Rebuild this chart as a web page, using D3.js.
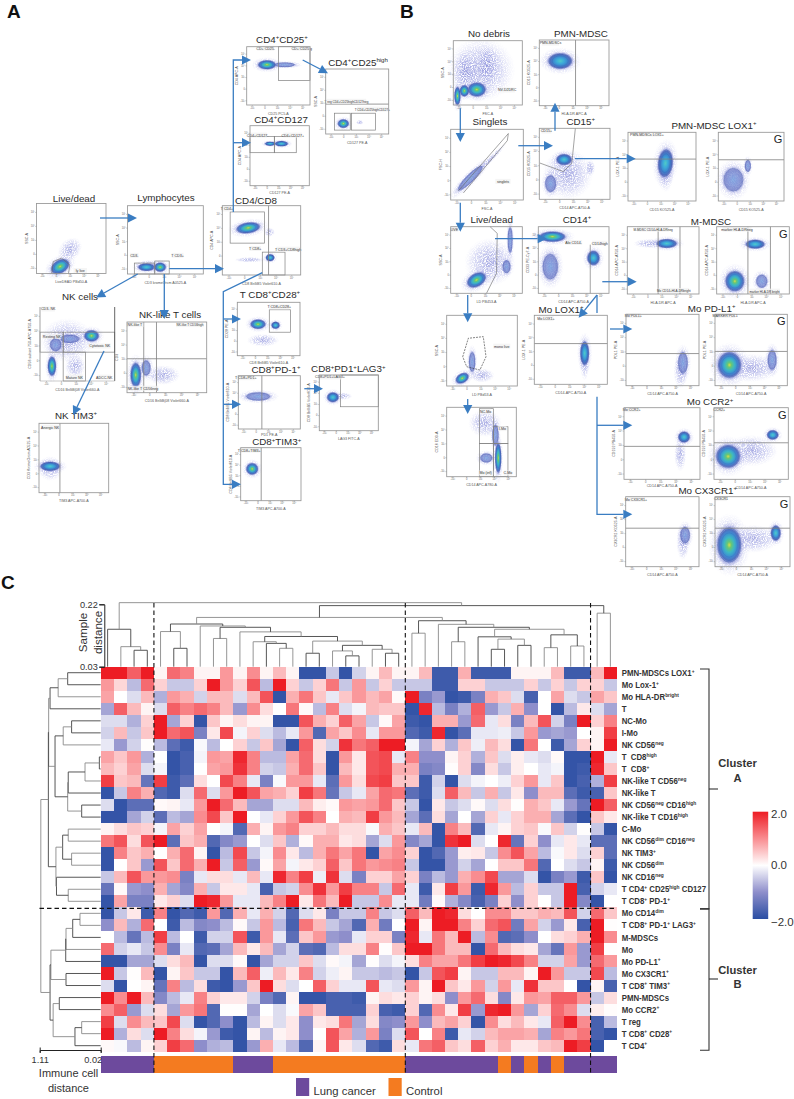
<!DOCTYPE html>
<html><head><meta charset="utf-8"><title>Flow gating and heatmap</title>
<script src="https://cdn.jsdelivr.net/npm/d3@7"></script>
<style>html,body{margin:0;padding:0;background:#fff}svg{display:block}text{font-family:"Liberation Sans",Arial,sans-serif}</style>
</head><body><svg id="fig" width="794" height="1099" viewBox="0 0 794 1099"></svg>
<script>
/* ---------- heatmap data ---------- */
const rowLabels=["PMN-MDSCs LOX1^+^","Mo Lox-1^+^","Mo HLA-DR^bright^","T","NC-Mo","I-Mo","NK CD56^neg^","T\u00a0 CD8^high^","T\u00a0 CD8^+^","NK-like T CD56^neg^","NK-like T","NK CD56^neg^ CD16^high^","NK-like T CD16^high^","C-Mo","NK CD56^dim^ CD16^neg^","NK TIM3^+^","NK CD56^dim^","NK CD16^neg^","T CD4^+^ CD25^high^ CD127","T CD8^+^ PD-1^+^","Mo CD14^dim^","T CD8^+^ PD-1^+^ LAG3^+^","M-MDSCs","Mo","Mo PD-L1^+^","Mo CX3CR1^+^","T CD8^+^ TIM3^+^","PMN-MDSCs","Mo CCR2^+^","T reg","T CD8^+^ CD28^+^","T CD4^+^"];
const heatValues=[
[2,2,1.4,2,.1,1.3,1.1,.1,.1,.9,.1,1,.1,.6,.1,-1.9,-1.9,-.5,-1.9,-.4,.1,.6,.1,.1,.6,-1.8,-1.8,.7,-1.8,-1.8,-1.8,.1,.1,.1,.6,-1.8,-1.8,.6,2],
[.9,.35,-.6,1.3,.4,-.5,-.5,.4,2,.9,.4,1.5,-.6,2,.4,-.5,.4,1.2,-.5,.9,-.5,.4,-.5,-.5,-.5,-1.8,-1.8,.4,.4,-.5,-.5,-.5,.4,-.5,.4,-.5,.4,.4,-.5],
[.8,0,-.3,.6,-.7,.9,.7,-.4,.6,.6,-.3,.6,1.5,-1.9,.7,1.2,.5,-.2,.5,.9,.6,.8,.05,2,-1.2,-.9,-1.9,-1.8,-1.2,.7,.5,-.3,-1.7,0,.8,-.3,-.5,.8,.5],
[-.8,1.4,.6,.1,-.3,1.4,1.1,1.3,1.1,.6,-.9,1,.3,0,1.2,.05,-.6,1.1,-.3,-.1,.6,.5,.5,-1.9,1.9,-.6,-1.2,-.7,1.4,-.9,-.5,.7,-1,0,-1.9,-.6,.2,-.3,-.8],
[-.3,-.3,-.7,.4,2,-.8,.4,-1.9,.5,.1,.3,.1,.1,-1.9,-1.9,1.5,.7,.4,1.4,.8,-.5,.05,.8,-1.8,-1.9,.7,.7,-.9,1.3,-.2,.3,-1.2,.6,1.5,-.4,-1.2,2,.4,1.1],
[-.4,.6,-.5,.5,2,1.3,1.5,-1.2,.2,1.6,-.1,.4,-.3,-.6,-.2,.9,-1.6,.8,.5,1,-.2,.9,.9,-1.6,-1.8,1.9,-1.9,-1.5,-.2,-.2,-.15,-.5,.9,-.9,-.8,-.9,0,.1,1.7],
[-.2,-.9,-.4,.02,-.6,-1.5,-1.8,-.05,-.6,0,.4,-.5,.5,-.8,-1.9,1.4,.3,-.4,1.8,1.2,1.4,2,2,-.1,-.8,.4,-.7,.5,-.15,.6,.3,-1.9,1.2,0,-1.8,-.8,.4,.1,2],
[.8,.5,.9,-.7,0,-1.9,-1.7,-.1,.9,.8,1.9,1.1,-.6,-.6,.8,1.3,.3,-1.9,.9,.2,1.5,1.6,-.2,1.1,-1,-1,.1,.4,-.7,.5,-.3,.15,-.2,-.3,.05,-1.9,-1.9,2,-.2],
[.6,.4,.8,-.3,-.1,-1.9,-1.7,0,.8,.9,1.8,1.1,-.4,-.5,.7,1.3,.5,-1.9,.6,.2,1.5,1.6,.7,.7,-1.2,-1.1,.03,.4,-1.1,.3,-.5,.15,0,-.2,-.1,-1.9,-1.8,1.9,.5],
[1.7,.5,.6,-1.4,1.7,-1.8,-1.5,.3,0,1.6,1.1,-.2,-1.2,-.05,.9,.9,-.2,-1.5,.9,.3,1.6,1.7,.5,.5,-1.8,-.4,-1.9,-.3,-.1,0,-.15,.4,.9,-.2,.5,-1.9,-1.7,-.7,1.7],
[-1.9,-.5,1.1,.7,-1.6,-1.8,-.3,1.3,-.3,.9,2,1.5,.8,.7,.4,1.7,1.2,-1.4,-.5,-.2,.8,1.3,1.2,-1.5,-1.8,-.3,1.4,.6,-.5,.7,-.5,.2,-1,.6,.6,-1.5,-1.8,-1.7,.5],
[-.3,-1.9,-1.5,-1.5,.05,.1,-.2,.9,2,1.3,.6,-.8,-.8,-.3,-.3,.6,.15,.05,.9,.8,.9,1.3,.5,-.5,-1.9,.2,-.5,-.3,.05,-.3,.3,.02,.7,.5,-.2,-.9,-1.4,2,1.4],
[-1.9,-1.9,-.8,-.4,-1.5,-.6,-.8,1,1.6,.5,2,0,-.2,.4,.9,1.5,1.1,0,.7,.6,1.7,.9,.6,-.8,-1.5,.3,-.8,0,-.8,.4,-.2,.4,.7,.7,-.8,-1.5,-1.9,.5,.2],
[.1,.3,.5,.4,-.1,.8,.4,.8,0,-.1,-1.6,.7,.1,.9,1.1,.4,.4,.6,.3,.3,-.05,.7,.5,-.2,.6,-1.9,1.1,.6,-1.6,-.2,.1,.4,.5,-.05,.5,-.4,.02,-.5,-1.9],
[1.2,1.5,.3,1.5,2,-1.5,.5,.7,-1.6,-1.1,-.9,0,-.3,.5,-.7,.05,.7,.7,.2,.3,-.8,-.3,.9,-1.1,-.8,-1.9,1.8,2,-.3,0,1.9,-1.4,.4,-1,-.2,.2,-.2,-1.5,-1.5],
[-1.9,1.1,.5,.7,0,.7,1.3,.1,-1.9,-.6,1.6,-.5,-.1,1,.2,-.6,.7,1.2,.8,1.2,-1.9,.8,1,.4,-1.9,-1.6,-.9,.15,.2,-.5,1,1.5,.8,-.6,-.05,.2,-.3,.4,-1.5],
[-1.9,0,.5,-.9,1.5,.5,1.3,.7,2,-.5,1.4,-.9,.05,.8,-.1,.2,.4,1.4,.5,1.2,.9,1,1.1,-.5,-1.9,-1.9,-.9,-.4,-.8,0,.5,.5,1.2,-1.6,0,-.3,-.5,.1,-1.8],
[-.5,.6,1.5,.9,.9,1,-1.2,-.2,.3,.3,-.2,.6,-.2,1.9,1.1,1.7,-.15,1.8,-.3,-1.2,.4,.4,.8,.4,-1.2,-.6,-.9,.7,1,1.6,-.8,-.8,-.3,-1.9,-1.2,-.9,-1.8,.5,-1.9],
[-1.4,.05,-.9,-1,.7,-.8,-1.1,.7,-.5,.2,.2,-.2,-1.7,-.5,-.4,1,1.8,.9,1.7,1.1,1.1,-.5,1.3,-.2,-1.8,.2,1.7,.9,-1.8,1.9,.9,-.6,.4,-.5,-.5,2,-1.7,-.4,-.2],
[-1.9,.8,-1.2,-1.2,.2,.4,-.3,2,1.9,.9,-.2,-.2,.6,1.1,2,.2,1.2,.6,2,-.5,-.5,1,-.2,-.2,-1.3,.05,-.7,-1.1,-1.7,-1.2,.4,-1,.4,0,-.5,2,-1.1,-1.9,0],
[-1.9,-.5,.2,-1.8,1.1,-1.9,-1.6,-1.8,.9,-1.6,.7,-.2,.7,-.4,-1.6,-.3,.2,-1.2,-.5,-.5,1.1,-.5,-.3,1.4,.6,2,1.9,.3,0,1,1,.5,.5,.7,.6,1.5,-.4,1.3,.5],
[-1,.6,-.7,1.3,0,-1.8,-.6,-1.1,-1,-.6,.05,-.5,.9,-.6,-1.7,1.2,.6,-.5,-.8,-1.6,.7,-1.3,0,2,.1,2,2,1.1,.4,1.3,1.5,-1.3,.8,-.4,-.9,.2,-1.7,2,.02],
[0,-.6,-1.4,-.6,1.7,-.6,0,-1.8,-.4,-.4,1.5,-1.8,.9,-.2,-1.5,.5,.9,-.9,-1,-.2,.4,.4,-1.2,1.9,-.2,1.2,.6,2,-.6,1,-1.6,-1.5,-1,0,.3,.4,.7,2,1],
[1.3,-.4,-.2,-.5,1,-1.2,-.2,-1.6,-1.5,-.8,.6,.2,.6,-.8,-.4,-1.5,-1.6,-.6,.3,.3,1.1,.02,.5,2,2,1.2,.6,.6,-1.9,1.3,.6,.3,.2,-.8,-1.4,.9,-.9,1.7,.02],
[-1.9,-1.9,-.8,-.8,-.3,.3,.6,-1.9,-.3,-.3,.05,-1.9,-.8,-.4,-.4,.5,-.3,.05,-.1,-.8,.02,-.3,-.1,.3,1.1,.8,.8,1.2,1.7,2,1.9,1.6,1.1,-.4,-.4,.8,-.9,1.3,.9],
[2,-.5,.02,.6,-1.9,.1,.5,-.5,-.5,-1.9,.6,1.4,-.15,.6,.2,1.1,-.4,-.15,.1,-.5,-.5,-.6,-.5,-1.9,-.5,1.5,1.7,.1,-.5,-.5,.6,.6,.1,2,.9,-.5,-.5,1.6,-.6],
[-.3,-1.9,0,.1,-1.4,1.1,-.6,.3,-1.8,-1.9,-.9,.5,2,.3,-.3,0,1.4,.4,-.2,-.2,1.5,-.2,-.3,.9,.1,2,.5,.2,.9,-.4,.9,-.2,1.8,.5,.5,0,-1.9,.1,-1.7],
[2,1,2,.6,-1.1,-.6,-.2,1.1,.4,.2,.2,-.4,-1.2,-1.6,.1,-1.9,-1.9,-1.7,-1.7,-1.8,.1,.3,.2,.4,.1,.3,-1,.9,1.3,.3,-1.1,.2,.9,.8,1.4,1.4,.9,-.5,.3],
[1,1.4,-.9,-.3,.3,-.8,.9,1.2,-1.6,.02,.02,-.8,0,-.3,-.05,.8,.5,-1.7,-1.7,-1.7,.4,-1.7,-1.8,.4,-1.6,1,.2,1.7,-.9,1.9,2,.9,-.8,.4,1.3,1,-.3,.15,.03],
[1.7,-.3,1,.6,.5,1.6,-.3,-1.9,-1.6,-1,-1.9,-.6,.1,-.3,.2,-1,.2,.3,1.2,-.8,.3,-1.1,-1,.9,-1,.6,.8,.4,-1.9,1,.3,.6,.2,-.2,1.4,2,1,-1.7,-.6],
[2,-.7,.3,-.3,2,1.1,.3,-.1,-.9,-1.8,-1.9,.1,-.6,.1,.2,-1,0,1.5,.8,-.7,.9,-1.2,-.3,1.5,0,1.1,-1.8,-.2,-.4,.6,.8,.8,.7,-.8,1.1,.9,1.2,-1.7,-1.9],
[.05,-.05,-.6,.1,.4,1.7,1.3,-1,-.7,-.6,-1.9,-.9,.7,-.2,-.6,-1.6,.1,1.5,.2,-.3,-1.6,-1.8,.3,-.2,1.2,1.4,.5,.3,1.4,.4,.7,.2,.2,.5,.6,2,1.7,-1.9,0]
];
// 0 = lung cancer, 1 = control
const sampleGroups=[0,0,0,0,1,1,1,1,1,1,0,0,0,1,1,1,1,1,1,1,1,1,1,0,0,0,0,0,0,0,1,0,1,0,1,0,0,0,0];
const groupNames=["Lung cancer","Control"];
const groupColors=["#6d4a9d","#f47b20"];
const colorDomain=[-2,-1,0,1,2];
const colorRange=["#2a4ea3","#8e8ecb","#ffffff","#f98c90","#ed1c24"];
const colorbarTicks=[2,0,-2];
const sampleTicks=[0.22,0.03];
const cellTicks=[1.11,0.02];
// dendrograms: [merge distance, left, right], leaves are column / row indexes
const sampleTree=[.225,[.144,0,[.091,1,[.08,2,3]]],[.216,[.18,[.16,[.137,4,[.086,5,6]],[.154,7,[.15,[.116,8,9],[.136,10,[.122,[.106,11,[.101,12,[.086,13,14]]],[.108,[.071,15,16],[.095,[.078,17,[.063,18,19]],[.083,20,[.071,21,22]]]]]]]]],[.17,[.132,23,24],[.159,25,[.15,[.106,26,27],[.144,[.121,28,[.114,[.083,29,30],[.095,31,32]]],[.127,[.088,33,34],[.093,35,36]]]]]]],[.193,37,38]]];
const cellTree=[1.09,
 [.955,[.95,[.925,[.78,[.61,0,1],2],3],[.836,[.69,[.54,4,5],6],[.61,[.6,[.3,[.044,7,8],9],10],[.36,11,12]]]],
  [.82,[.7,[.6,13,14],[.54,15,16]],[.81,17,[.6,18,19]]]],
 [.925,[.91,[.645,[.64,[.52,[.39,20,21],22],23],24],[.64,25,26]],[.87,[.76,27,28],[.48,[.36,29,30],31]]]];

/* ---------- flow panels ---------- */
const flowTickLabels=["-10\u00b3","0","10\u00b3","10\u2074","10\u2075"];
const flowTickValues=[8,28,48,68,88];
// layout: id, frame, title, title anchor, x label, y label
const flowLayout=[
["live",[36.5,203.5,106,273.5],"Live/dead",[74,202],"LiveDEAD PBd50-A","SSC-A"],
["lymph",[127.5,205.7,203.3,274],"Lymphocytes",[166,201],"CD3 kromeOrcm A0525-A","SSC-A"],
["cd4cd8",[222.3,205.7,300.7,275],"CD4/CD8",[256,204],"CD8 BrilliB5 Violet610-A","CD4 APC-A"],
["cd25",[246.7,46.7,310,105],"CD4^+^CD25^+^",[282,42.7],"CD25 PC5-A","CD4 APC-A"],
["cd25high",[325.7,69,388.7,134],"CD4^+^CD25^high^",[358,65.7],"CD127 PE-A","SSC-A"],
["cd127",[250,125.7,309.3,185.7],"CD4^+^CD127",[281,122.7],"CD127 PE-A","CD4 APC-A"],
["nk",[40,307,114.7,381],"NK cells",[80,300],"CD16 BrilliB(08 Violet660-A","CD56 subset 750-APC-A750-A",true],
["nklike",[127,322,206.7,392.7],"NK-like T cells",[170,318],"CD16 BrilliB(08 Violet660-A","CD3"],
["nktim3",[39,423.3,108.7,492.7],"NK TIM3^+^",[76,419],"TIM3 APC-A700-A","CD3 KromeOrcm A0525-A"],
["cd28",[237.3,302.3,300,355.7],"T CD8^+^CD28^+^",[270,298],"CD8 BrilliB5 Violet610-A","CD28 PE-A"],
["pd1",[238.3,375.7,300.3,429],"CD8^+^PD-1^+^",[276,372.7],"PD1 PE-A","CD8 BrilliB5 Violet610-A"],
["lag3",[319.3,375,378.3,430.7],"CD8^+^PD1^+^LAG3^+^",[348.3,372.3],"LAG3 FITC-A","CD8 BrilliB5 Violet610-A"],
["tim3",[240.7,447.7,301,500.7],"CD8^+^TIM3^+^",[276.7,445.3],"TIM3 APC-A700-A","CD8 BrilliB5 Violet610-A"],
["debris",[453.3,40.7,522.3,105],"No debris",[489,36.7],"FSC-A","SSC-A"],
["pmn",[539.3,40,609,105.7],"PMN-MDSC",[581,36.7],"HLA-DR APC-A","CD15 KO525-A"],
["singlets",[450.7,129.3,523.3,200],"Singlets",[490,125],"FSC-A","FSC-H"],
["cd15",[539.3,128.3,610,199.3],"CD15^+^",[580.7,125],"CD14 APC-A750-A","CD15 KO525-A"],
["loxL",[628,132.3,696,201],"",[0,0],"CD15 KO525-A","LOX-1 PE-A"],
["loxR",[718.3,132.3,784,201],"",[0,0],"CD15 KO525-A","LOX-1 PE-A"],
["liveB",[450.7,226.7,522.3,293.3],"Live/dead",[491.7,223],"LD PB453-A","SSC-A"],
["cd14",[538.3,226.7,609,293.3],"CD14^+^",[577,223],"CD14 APC-A750-A","CD33 PE-Cy7-A"],
["mL",[627.3,226.7,699,294],"",[0,0],"HLA-DR APC-A","CD14 APC-A750-A"],
["mR",[716.7,226.7,789.3,294],"",[0,0],"HLA-DR APC-A","CD14 APC-A750-A"],
["mono",[446.7,315.3,517.3,386],"",[0,0],"LD PBd53-A","SSC-A"],
["cd16",[446.7,407.3,516.3,476.7],"",[0,0],"CD14 APC-A780-A","CD16 ED3-A"],
["molox",[534.3,315.3,607.3,384.3],"Mo LOX1^+^",[561,313],"CD14-APC-A750-A","LOX-1 PE-A"],
["pdL",[626,314.3,699,385.7],"",[0,0],"CD14 APC-A750-A","PDL1 PE-A"],
["pdR",[715,314.3,787.3,385.7],"",[0,0],"CD14 APC-A750-A","PDL1 PE-A"],
["ccrL",[624,407.7,700,479.3],"",[0,0],"CD14 APC-A750-A","CD192 PB450-A"],
["ccrR",[714,407.7,788.3,479.3],"",[0,0],"CD14 APC-A750-A","CD192 PB450-A"],
["cxL",[625.7,496.7,699,566.7],"",[0,0],"CD14 APC-A750-A","CX3CR1 KO525-A"],
["cxR",[715,496.7,790,566.7],"",[0,0],"CD14 APC-A750-A","CX3CR1 KO525-A"]
];
const xLabelOffset={pd1:6.6,cd28:8,ccrL:8,cd127:8};
const floatingTitles=[["PMN-MDSC LOX1^+^",714,129],["M-MDSC",711,225],["Mo PD-L1^+^",711.7,312],["Mo CCR2^+^",710,405.3],["Mo CX3CR1^+^",707.7,493.7]];
const gatedPanels=["loxR","mR","pdR","ccrR","cxR"];
// density clouds in axis percent: [u, v, spread u, spread v, rotation, level]
const flowBlobs={
live:[[48,34,20,15,-45,"haze"],[34,10,13,8.5,-30,"hot"]],
lymph:[[30,12,24,9,0,"haze"],[25,10,10,5,0,"mid"],[43,10,7,6,0,"hot"]],
cd4cd8:[[35,22,20,4,0,"haze"],[60,62,7,7,0,"haze"],[33,68,14,7,-8,"hot"],[61,25,5,4.5,0,"mid"]],
cd25:[[60,69,15,3.5,0,"cold"],[32,69,13,7,0,"hot"]],
cd25high:[[54,18,6,4,0,"haze"],[28,16,8,6,0,"hot"]],
cd127:[[34,70,8,3,0,"mid"],[53,70,10,4,0,"mid"]],
nk:[[36,55,36,30,0,"haze"],[47,20,14,16,0,"haze"],[40,57,12,5,0,"cold"],[21,49,7,8,0,"cold"],[69,61,9,7,0,"hot"],[16,20,5,12,0,"hot"]],
nklike:[[45,25,22,14,0,"haze"],[24,35,5,10,0,"cold"],[11,25,6,16,0,"hot"]],
nktim3:[[16,35,18,18,0,"haze"],[16,38,13,6,0,"mid"]],
cd28:[[41,29,26,12,0,"haze"],[33,59,11,8,0,"hot"],[61,57,6,6,0,"mid"]],
pd1:[[32,61,18,7,0,"cold"]],
lag3:[[38,62,18,7,0,"haze"],[23,60,9,8,0,"mid"]],
tim3:[[19,60,9,10,0,"hot"]],
debris:[[40,55,50,50,0,"haze"],[17,51,18,34,0,"haze"],[50,62,16,32,0,"haze"],[34,24,12,10,0,"hot"],[16,22,6,8,0,"hot"],[6,14,4,13,0,"hot"]],
pmn:[[30,68,16,11,0,"mid"]],
singlets:[[54,57,32,4,-45,"haze"],[27,31,22,5,-45,"cold"]],
cd15:[[40,35,36,36,0,"haze"],[72,44,7,12,0,"haze"],[16,22,7,11,0,"cold"],[35,56,10,7,0,"mid"]],
loxL:[[55,45,13,32,0,"haze"],[55,55,10,19,5,"mid"]],
loxR:[[23,31,14,16,0,"cold"],[45,51,4,8,0,"cold"]],
liveB:[[55,47,36,36,0,"haze"],[83,80,3,18,0,"cold"],[78,40,5,9,0,"cold"],[36,20,13,9,-30,"hot"]],
cd14:[[17,40,10,18,0,"cold"],[78,53,8,10,0,"mid"],[20,85,17,7,0,"hot"]],
mL:[[32,75,24,7,0,"haze"],[55,75,13,6,0,"mid"]],
mR:[[53,74,12,6,0,"mid"],[62,19,7,9,0,"cold"],[25,19,12,14,0,"hot"]],
mono:[[50,15,18,10,0,"haze"],[36,34,4,13,0,"cold"],[22,11,9,6,-30,"hot"]],
cd16:[[55,77,24,20,0,"haze"],[70,60,4,14,0,"cold"],[57,27,8,6,0,"cold"],[74,27,4,20,0,"hot"]],
molox:[[69,35,7,30,0,"haze"],[69,45,5.5,16,0,"mid"]],
pdL:[[75,20,10,24,0,"haze"],[78,32,6,14,0,"cold"]],
pdR:[[50,25,40,20,0,"haze"],[79,36,5.5,13,0,"cold"],[20,29,15,17,0,"hot"]],
ccrL:[[74,35,8,24,0,"haze"],[79,59,7,7,0,"mid"]],
ccrR:[[50,40,36,22,0,"haze"],[79,62,7,6,0,"mid"],[19,32,15,15,0,"hot"]],
cxL:[[78,35,9,26,0,"haze"],[81,45,6,11,0,"cold"]],
cxR:[[50,40,36,20,0,"haze"],[81,48,6,10,0,"mid"],[19,31,15,24,0,"hot"]]
};
// gates in axis percent
const flowRects={cd4cd8:[[10,46,54,91],[51,0,80,33]],cd25:[[50,42,100,100]],cd25high:[[14,6,39,32],[41,6,79,32]],cd127:[[0,55,41,82],[41,55,78,82]],lymph:[[9,0,36,16],[36,0,55,19]],nk:[[0,39,31,66],[31,39,100,66],[31,0,61,39]],cd28:[[51,44,85,86]],lag3:[[36,43,100,100]],cd16:[[47,48,67,98],[67,48,88,72],[47,0,67,48],[67,0,88,48]]};
const flowVLines={cd4cd8:[59],nklike:[21,37],nktim3:[30],pd1:[38],tim3:[34],pmn:[52],mL:[43,73.5],mR:[43,74]};
const flowHLines={cd25high:[46],nklike:[48],loxL:[61],loxR:[60],molox:[59],pdL:[45],pdR:[48],ccrL:[46],ccrR:[51],cxL:[55],cxR:[55]};
const flowPolys={live:[[22,0],[24,17],[36,22],[48,12],[46,0]],singlets:[[10.6,13],[79.4,94],[78,84],[17.5,10]],cd15:[[1,51],[34,39],[46,51],[51,100]],liveB:[[55,100],[65,90],[64,30],[50,0]],cd14:[[73.5,0],[73.5,73]],mono:[[22.7,41.4],[30.6,67.5],[51.8,69.8],[55.7,41.4],[47,22.6],[28.3,27.3],[22.7,41.4]]};
const flowLabels={live:[[63,4,"ly live"]],lymph:[[9,27,"CD3-"],[66,27,"T CD3+"]],cd4cd8:[[6,95,"T CD4+"],[42,38,"T CD8+"],[84,37,"T CD3+CD8high"]],cd25:[[30,97,"CD+ CD25-"],[87,97,"CD+ CD25 g"]],cd25high:[[33,50,"T reg CD4+CD25highCD127neg"],[74,38,"T CD4+CD25highCD127+"]],cd127:[[13,84,"CD4+CD127-"],[72,84,"CD4+CD127+"]],nk:[[11,97,"CD3- NK"],[16,60,"Resting NK"],[80,47,"Cytotoxic NK"],[46,5,"Mature NK"],[86,5,"ADCC-NK"]],nklike:[[10,96,"NK-like T"],[79,96,"NK-like T CD16high"],[20,6,"NK-like T CD56neg"]],nktim3:[[16,94,"Anergic NK"]],cd28:[[67,91,"T CD8+CD28+"]],pd1:[[12,96,"T CD8+PD1+"]],lag3:[[18,96,"CD8+PD1+LAG3+"]],tim3:[[14,95,"T CD8+TIM3+"]],debris:[[78,23,"NV-D2DRC"]],pmn:[[16,95,"PMN-MDSCs"]],singlets:[[72,26,"singlets"]],cd15:[[10,96,"CD15+"]],loxL:[[28,97,"PMN-MDSCs LOX1+"]],mL:[[36,96,"M-MDSC CD14+HLA-DRneg"],[65,5,"Mo CD14+HLA-DRbright"]],mR:[[28,96,"marker HLA-DRneg"],[66,4,"marker HLA-DR bright"]],cd14:[[50,76,"Alo CD14-"],[87,75,"CD14high"]],liveB:[[5,96,"LIVE"]],mono:[[78,56,"mono live"]],cd16:[[56,94,"NC-Mo"],[80,69,"I-Mo"],[56,5,"Mo (inf)"],[88,5,"C-Mo"]],molox:[[16,95,"Mo LOX1+"]],pdL:[[10,98,"Mo PDL1+"]],pdR:[[14,98,"MARKER PDL1"]],ccrL:[[10,97,"Mo CCR2+"]],ccrR:[[7,97,"CCR2+"]],cxL:[[14,96,"Mo CX3CR1+"]],cxR:[[8,97,"CX3CR1"]]};
// arrows: polyline, last point carries the head
const arrowPaths=[
[[100,218],[128,218]],[[169.3,268.7],[215,268.7]],[[164.3,274],[164.3,310]],[[137.7,274],[104,293]],
[[233.3,212],[233.3,60],[242,60]],[[233.3,142.7],[242,142.7]],[[302.7,60],[320,69]],
[[262.3,272.7],[223.3,291.7],[223.3,484.3],[232,484.3]],[[223.3,319],[232,319]],[[223.3,404.3],[232,404.3]],
[[304.3,388.7],[314,388.7]],[[104,351],[77,407]],
[[460.3,108.3],[460.3,133]],[[460.3,202.7],[460.3,222.7]],[[518.3,145.7],[544,145.7]],[[555,130.7],[555,111.7]],[[575,158.7],[626.7,158.7]],
[[495,238.7],[537.7,238.7]],[[602.3,281.7],[627.7,281.7]],[[467.7,295],[467.7,313.3]],[[467.7,399],[467.7,405]],
[[597,295],[584.3,310.7]],[[610,329],[623.3,329]],
[[597,396.7],[597,514.3],[623.3,514.3]],[[597,425.3],[623.3,425.3]]
];
const plainSegments=[[[597,295],[597,313]]];

/* ---------- drawing ---------- */
const svg=d3.select("#fig");
const defs=svg.append("defs");
const rich=(sel,str,fs)=>{
  str.split("^").forEach((part,i)=>{ if(!part&&i>0&&i%2===0)return;
    const t=sel.append("tspan").text(part);
    if(i%2===1){t.attr("font-size",fs*.62).attr("dy",-fs*.38);} else if(i>0){t.attr("dy",fs*.38);}
  });
  return sel;
};
const grads={hot:[[0,"#d6dc4c",1],[.14,"#69c774",1],[.34,"#3cb7c4",1],[.55,"#3f8ad2",1],[.7,"#4a6abc",.95],[.84,"#8f96d8",.5],[1,"#c8c8ee",0]],
 mid:[[0,"#52c9c6",1],[.26,"#3cabd8",1],[.52,"#3f82cc",1],[.7,"#4a66b8",.95],[.84,"#8f96d8",.5],[1,"#c8c8ee",0]],
 cold:[[0,"#7ba4e0",.85],[.4,"#7a90d6",.8],[.7,"#6a78c6",.75],[.86,"#a2a8e0",.4],[1,"#c8c8ee",0]],
 haze:[[0,"#8388d8",.75],[.6,"#9ea2e4",.42],[1,"#c5c6f0",0]]};
Object.entries(grads).forEach(([k,stops])=>{
  defs.append("radialGradient").attr("id","g-"+k).selectAll("stop").data(stops).join("stop")
    .attr("offset",d=>d[0]).attr("stop-color",d=>d[1]).attr("stop-opacity",d=>d[2]);
});
// texture only: the dotted look of cytometry clouds
const speck=defs.append("filter").attr("id","speck").attr("x","-10%").attr("y","-10%").attr("width","120%").attr("height","120%");
speck.append("feTurbulence").attr("type","fractalNoise").attr("baseFrequency",.9).attr("numOctaves",2).attr("seed",4).attr("result","n");
speck.append("feColorMatrix").attr("in","n").attr("type","matrix").attr("values","0 0 0 0 0 0 0 0 0 0 0 0 0 0 0 3.2 0 0 0 -.95").attr("result","a");
speck.append("feComposite").attr("in","SourceGraphic").attr("in2","a").attr("operator","in").attr("result","c");
speck.append("feGaussianBlur").attr("in","c").attr("stdDeviation",.25);
defs.append("filter").attr("id","soft").attr("x","-20%").attr("y","-20%").attr("width","140%").attr("height","140%")
  .append("feGaussianBlur").attr("stdDeviation",.4);

const flowG=svg.append("g");
flowLayout.forEach(([id,box,title,anchor,xLab,yLab,open])=>{
  const [x0,y0,x1,y1]=box;
  const xs=d3.scaleLinear([0,100],[x0,x1]), ys=d3.scaleLinear([0,100],[y1,y0]);
  const g=flowG.append("g").attr("class","panel-"+id);
  const hazeG=g.append("g").attr("filter","url(#speck)");
  const cloud=g.append("g").attr("filter","url(#soft)");
  (flowBlobs[id]||[]).forEach(([u,v,su,sv,rot,level])=>{
    const rx=xs(su)-xs(0), ry=ys(0)-ys(sv), cx=xs(u), cy=ys(v);
    const tr=`rotate(${rot},${cx},${cy})`;
    if(level==="haze"){
      hazeG.append("ellipse").attr("transform",tr).attr("cx",cx).attr("cy",cy).attr("rx",rx).attr("ry",ry).attr("fill","url(#g-haze)");
      return;
    }
    hazeG.append("ellipse").attr("transform",tr).attr("cx",cx).attr("cy",cy).attr("rx",rx*1.9).attr("ry",ry*1.9).attr("fill","url(#g-haze)");
    const c=cloud.append("g").attr("transform",tr);
    c.append("ellipse").attr("cx",cx).attr("cy",cy).attr("rx",rx*1.32).attr("ry",ry*1.32).attr("fill",`url(#g-${level})`);
    c.append("ellipse").attr("cx",cx).attr("cy",cy).attr("rx",rx*1.02).attr("ry",ry*1.02).attr("fill","none").attr("stroke","#2e47a0").attr("stroke-width",.5).attr("stroke-opacity",.65);
    if(level!=="cold")c.append("ellipse").attr("cx",cx).attr("cy",cy).attr("rx",rx*.72).attr("ry",ry*.72).attr("fill","none").attr("stroke","#2e47a0").attr("stroke-width",.35).attr("stroke-opacity",.45);
  });
  const gateColor="#808080";
  (flowRects[id]||[]).forEach(r=>g.append("rect").attr("x",xs(r[0])).attr("y",ys(r[3])).attr("width",xs(r[2])-xs(r[0])).attr("height",ys(r[1])-ys(r[3])).attr("fill","none").attr("stroke",gateColor).attr("stroke-width",.7));
  (flowVLines[id]||[]).forEach(u=>g.append("line").attr("x1",xs(u)).attr("x2",xs(u)).attr("y1",y0).attr("y2",y1).attr("stroke",gateColor).attr("stroke-width",.8));
  (flowHLines[id]||[]).forEach(v=>g.append("line").attr("x1",x0).attr("x2",x1).attr("y1",ys(v)).attr("y2",ys(v)).attr("stroke",gateColor).attr("stroke-width",.8));
  if(flowPolys[id]) g.append("path").attr("d",d3.line().x(d=>xs(d[0])).y(d=>ys(d[1]))(flowPolys[id])).attr("fill","none").attr("stroke",id==="mono"?"#333":"#666").attr("stroke-width",.6).attr("stroke-dasharray",id==="mono"?"2,1":null);
  (flowLabels[id]||[]).forEach(([u,v,t])=>{
    const fs=t.length>17?3.05:3.6,w=t.length*fs*.48+1.4;
    g.append("rect").attr("x",xs(u)-w/2).attr("y",ys(v)-2.7).attr("width",w).attr("height",5).attr("fill","#f2f2f2").attr("fill-opacity",.75);
    g.append("text").attr("x",xs(u)).attr("y",ys(v)+1.2).attr("font-size",fs).attr("fill","#333").attr("text-anchor","middle").text(t);
  });
  if(open){
    [x0,x1].forEach((x,i)=>g.append("line").attr("x1",x).attr("x2",x).attr("y1",y0).attr("y2",y1).attr("stroke",i?"#555":"#999").attr("stroke-width",.9));
    g.append("line").attr("x1",x0).attr("x2",x1).attr("y1",y1).attr("y2",y1).attr("stroke","#aaa").attr("stroke-width",.6);
  } else {
    g.append("rect").attr("x",x0).attr("y",y0).attr("width",x1-x0).attr("height",y1-y0).attr("fill","none").attr("stroke","#969696").attr("stroke-width",.85);
  }
  const fmt=(d,i)=>flowTickLabels[i];
  const ax=g.append("g").attr("transform",`translate(0,${y1})`).call(d3.axisBottom(xs).tickValues(flowTickValues).tickFormat(fmt).tickSize(1.4).tickPadding(.4));
  const ay=g.append("g").attr("transform",`translate(${x0},0)`).call(d3.axisLeft(ys).tickValues(flowTickValues).tickFormat(fmt).tickSize(1.4).tickPadding(.4));
  [ax,ay].forEach(a=>{a.select(".domain").remove();a.selectAll("line").attr("stroke","#888").attr("stroke-width",.4);a.selectAll("text").attr("font-size",2.6).attr("fill","#666").attr("font-family","Liberation Sans");});
  g.append("text").attr("x",(x0+x1)/2).attr("y",y1+(xLabelOffset[id]||9.5)).attr("text-anchor","middle").attr("font-size",3.6).attr("fill","#555").text(xLab);
  g.append("text").attr("transform",`translate(${x0-9},${(y0+y1)/2}) rotate(-90)`).attr("text-anchor","middle").attr("font-size",3.6).attr("fill","#555").text(yLab);
  if(title) rich(g.append("text").attr("x",anchor[0]).attr("y",anchor[1]).attr("text-anchor","middle").attr("font-size",9.8).attr("fill","#2a2a2a"),title,9.8);
  if(gatedPanels.includes(id)) g.append("text").attr("x",x1-6).attr("y",y0+11).attr("text-anchor","middle").attr("font-size",11).attr("fill","#222").text("G");
});
floatingTitles.forEach(([t,x,y])=>rich(flowG.append("text").attr("x",x).attr("y",y).attr("text-anchor","middle").attr("font-size",9.8).attr("fill","#2a2a2a"),t,9.8));

// arrows
const arrowBlue="#3a7dc2";
const arrowG=svg.append("g");
const pl=d3.line();
plainSegments.forEach(p=>arrowG.append("path").attr("d",pl(p)).attr("fill","none").attr("stroke",arrowBlue).attr("stroke-width",1.3));
arrowPaths.forEach(p=>{
  arrowG.append("path").attr("d",pl(p)).attr("fill","none").attr("stroke",arrowBlue).attr("stroke-width",1.3);
  const a=p[p.length-2],b=p[p.length-1],ang=Math.atan2(b[1]-a[1],b[0]-a[0])*180/Math.PI;
  arrowG.append("path").attr("d",d3.line()([[0,-4.6],[9,0],[0,4.6]])+"Z").attr("transform",`translate(${b[0]},${b[1]}) rotate(${ang})`).attr("fill",arrowBlue);
});

// panel letters
[["A",7,18],["B",400,18],["C",1,589]].forEach(([t,x,y])=>svg.append("text").attr("x",x).attr("y",y).attr("font-size",19).attr("font-weight","bold").attr("fill","#111").text(t));

/* heatmap */
const nCols=heatValues[0].length,nRows=heatValues.length;
const xBand=d3.scaleBand(d3.range(nCols),[101,617]);
const yBand=d3.scaleBand(d3.range(nRows),[666.7,1051.7]);
const colorScale=d3.scaleLinear(colorDomain,colorRange);
const heat=svg.append("g").attr("shape-rendering","crispEdges");
heat.selectAll("g").data(heatValues).join("g").selectAll("rect")
  .data((row,r)=>row.map((v,c)=>({v,c,r}))).join("rect")
  .attr("x",d=>xBand(d.c)).attr("y",d=>yBand(d.r)).attr("width",xBand.bandwidth()+.3).attr("height",yBand.bandwidth()+.3)
  .attr("fill",d=>colorScale(d.v));
// sample annotation strip
svg.append("g").attr("shape-rendering","crispEdges").selectAll("rect").data(sampleGroups).join("rect")
  .attr("x",(d,i)=>xBand(i)).attr("y",1056).attr("width",xBand.bandwidth()+.3).attr("height",17.3).attr("fill",d=>groupColors[d]);
// row labels
const lab=svg.append("g");
rowLabels.forEach((t,i)=>{
  const y=yBand(i)+yBand.bandwidth()/2+3.1;
  rich(lab.append("text").attr("transform",`translate(621.7,${y}) scale(.9,1)`).attr("font-size",8.7).attr("font-weight","bold").attr("fill","#333"),t,8.7);
});

/* dendrograms */
const treeLines=(node,pos,depth,out)=>{
  if(typeof node==="number") return {p:pos(node),d:null};
  const l=treeLines(node[1],pos,depth+1,out),r=treeLines(node[2],pos,depth+1,out);
  out.push({l,r,d:node[0],depth});
  return {p:(l.p+r.p)/2,d:node[0]};
};
const sampleY=d3.scaleLinear(sampleTicks.slice().reverse(),[666.7,604.3]);
const cellX=d3.scaleLinear(cellTicks,[39.7,100.7]);
const sampleOut=[],cellOut=[];
treeLines(sampleTree,i=>xBand(i)+xBand.bandwidth()/2,0,sampleOut);
treeLines(cellTree,i=>yBand(i)+yBand.bandwidth()/2,0,cellOut);
const dg=svg.append("g").attr("fill","none").attr("stroke-width",.9);
sampleOut.forEach(n=>{
  const y=sampleY(n.d),yl=n.l.d==null?666.7:sampleY(n.l.d),yr=n.r.d==null?666.7:sampleY(n.r.d);
  dg.append("path").attr("d",pl([[n.l.p,yl],[n.l.p,y],[n.r.p,y],[n.r.p,yr]])).attr("stroke",n.depth%2?"#444":"#8a8a8a");
});
cellOut.forEach(n=>{
  const x=cellX(n.d),xl=n.l.d==null?100.7:cellX(n.l.d),xr=n.r.d==null?100.7:cellX(n.r.d);
  dg.append("path").attr("d",pl([[xl,n.l.p],[x,n.l.p],[x,n.r.p],[xr,n.r.p]])).attr("stroke",n.depth%2?"#444":"#8a8a8a");
});

/* dendrogram scales */
const axG=svg.append("g");
const yAx=axG.append("g").attr("transform","translate(104.3,0)").call(d3.axisLeft(sampleY).tickValues(sampleTicks).tickFormat(d3.format(".2f")).tickSize(5).tickPadding(1.5));
yAx.select(".domain").attr("stroke","#222").attr("stroke-width",1);
yAx.selectAll("line").attr("stroke","#222").attr("stroke-width",1);
yAx.selectAll("text").attr("font-size",9.2).attr("fill","#333").attr("font-family","Liberation Sans");
const xAx=axG.append("g").attr("transform","translate(0,1050)").call(d3.axisBottom(cellX).tickValues(cellTicks).tickFormat(d3.format(".2f")).tickSizeOuter(0).tickSize(3).tickPadding(3));
xAx.select(".domain").attr("stroke","#222");
xAx.selectAll("line").attr("stroke","#222").attr("y1",-2.5).attr("y2",2.5);
xAx.selectAll("text").attr("font-size",9.2).attr("fill","#333").attr("font-family","Liberation Sans");
xAx.selectAll(".tick").filter(d=>d===0.02).select("text").attr("dx",-8);
axG.append("text").attr("transform","translate(86.5,632.5) rotate(-90)").attr("text-anchor","middle").attr("font-size",11.6).attr("fill","#333").text("Sample");
axG.append("text").attr("transform","translate(101.5,632.5) rotate(-90)").attr("text-anchor","middle").attr("font-size",11.6).attr("fill","#333").text("distance");
axG.append("text").attr("x",68.5).attr("y",1076.5).attr("text-anchor","middle").attr("font-size",11).attr("fill","#333").text("Immune cell");
axG.append("text").attr("x",68.5).attr("y",1091.5).attr("text-anchor","middle").attr("font-size",11).attr("fill","#333").text("distance");

/* dashed separators */
const dash=svg.append("g").attr("stroke","#111").attr("stroke-width",1.1).attr("stroke-dasharray","4.5,3");
[4,23,37].forEach(c=>dash.append("line").attr("x1",xBand(c)).attr("x2",xBand(c)).attr("y1",603).attr("y2",1074));
dash.append("line").attr("x1",39.5).attr("x2",617).attr("y1",yBand(20)+1).attr("y2",yBand(20)+1);

/* legend */
const lg=svg.append("g");
groupNames.forEach((name,i)=>{
  const x=[296,388.5][i];
  lg.append("rect").attr("x",x).attr("y",1078).attr("width",13.2).attr("height",18).attr("fill",groupColors[i]);
  lg.append("text").attr("x",x+17.5).attr("y",1095).attr("font-size",11.3).attr("fill","#333").text(name);
});

/* colour bar */
const cbScale=d3.scaleLinear([2,-2],[811.7,919]);
const cg=defs.append("linearGradient").attr("id","cbar").attr("x1",0).attr("x2",0).attr("y1",0).attr("y2",1);
colorDomain.slice().reverse().forEach((v,i)=>cg.append("stop").attr("offset",i/(colorDomain.length-1)).attr("stop-color",colorScale(v)));
svg.append("rect").attr("x",752.7).attr("y",811.7).attr("width",15.5).attr("height",107.3).attr("fill","url(#cbar)");
colorbarTicks.forEach(v=>svg.append("text").attr("x",771).attr("y",cbScale(v)+(v===2?6:v===-2?7:4)).attr("font-size",11.5).attr("fill","#333").text(v<0?"\u2212"+Math.abs(v).toFixed(1):v.toFixed(1)));

/* cluster brackets */
const bracket=svg.append("g").attr("fill","none").attr("stroke","#333").attr("stroke-width",1.1);
const clusterSpans=[[0,19],[20,31]];
clusterSpans.forEach(([a,b],i)=>{
  const top=i===0?669:yBand(a)+1.5, bot=i===0?yBand(b)+yBand.bandwidth()+1.5:yBand(b)+yBand.bandwidth()-1.5, mid=i===0?789:979;
  bracket.append("path").attr("d",pl([[700,top],[709,top],[709,bot],[700,bot]]));
  bracket.append("path").attr("d",pl([[709,mid],[718,mid]]));
});
[["Cluster",767],["A",782],["Cluster",974],["B",988]].forEach(([t,y])=>svg.append("text").attr("x",737.5).attr("y",y).attr("text-anchor","middle").attr("font-size",11.2).attr("font-weight","bold").attr("fill","#333").text(t));
</script></body></html>
